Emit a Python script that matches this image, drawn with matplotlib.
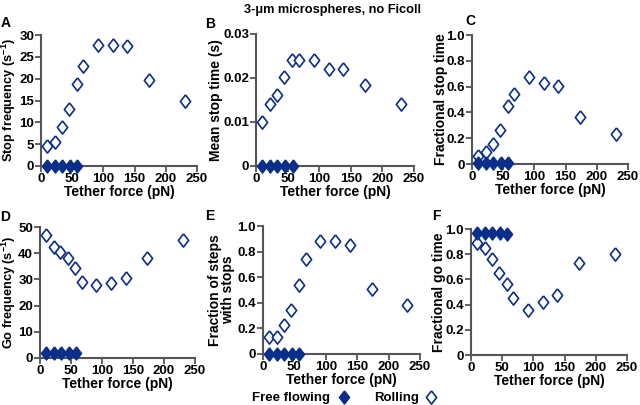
import numpy as np
import matplotlib
matplotlib.use('Agg')
from matplotlib import pyplot as plt

# tether force (pN)
force_roll = [10, 22, 33, 45, 57, 68, 91, 115, 138, 173, 230]
force_free = [10, 22, 34, 46, 58]

# rolling (open diamonds)
stop_freq_roll = [4.5, 5.5, 9, 13, 18.7, 22.8, 27.8, 27.8, 27.5, 19.6, 15]
mean_stop_roll = [0.0100, 0.0141, 0.0162, 0.0202, 0.0241, 0.0241, 0.0241, 0.0220, 0.0220, 0.0183, 0.0141]
frac_stop_roll = [0.06, 0.09, 0.155, 0.265, 0.45, 0.545, 0.675, 0.625, 0.605, 0.365, 0.235]
go_freq_roll = [47, 42.5, 40.3, 38.3, 34.5, 29, 28, 28.5, 30.5, 38.3, 45.2]
frac_steps_roll = [0.13, 0.13, 0.225, 0.34, 0.54, 0.74, 0.88, 0.88, 0.855, 0.51, 0.38]
frac_go_roll = [0.89, 0.85, 0.76, 0.65, 0.56, 0.45, 0.36, 0.42, 0.48, 0.73, 0.80]

# free flowing (filled diamonds)
stop_freq_free = [0, 0, 0, 0, 0]
mean_stop_free = [0, 0, 0, 0, 0]
frac_stop_free = [0.01, 0.01, 0.01, 0.01, 0.01]
go_freq_free = [2, 2, 2, 2, 2]
frac_steps_free = [0, 0, 0, 0, 0]
frac_go_free = [0.97, 0.97, 0.97, 0.97, 0.96]

frac_ticks = [0, 0.2, 0.4, 0.6, 0.8, 1.0]
frac_labels = ['0', '0.2', '0.4', '0.6', '0.8', '1.0']

plt.rcParams['font.family'] = ['Liberation Sans', 'DejaVu Sans']
plt.rcParams['font.weight'] = 'bold'
plt.rcParams['axes.labelweight'] = 'bold'
plt.rcParams['mathtext.fontset'] = 'custom'
plt.rcParams['mathtext.rm'] = 'Liberation Sans:bold'
plt.rcParams['mathtext.bf'] = 'Liberation Sans:bold'
plt.rcParams['mathtext.default'] = 'bf'

blue = '#0b2e8a'
spine_col = '#555555'
W, H = 640, 405
diamond = [(0, 1), (0.78, 0), (0, -1), (-0.78, 0), (0, 1)]

fig = plt.figure(figsize=(W / 100, H / 100), dpi=100)

def make_ax(l, r, t, b):
    return fig.add_axes([l / W, 1 - b / H, (r - l) / W, (b - t) / H])

panels = [
    # box, letter pos, letter, ylabel right edge, ylabel size, ylabel, roll, free, ymax, yticks, yticklabels
    ((41, 197, 35, 166), (1, 27), 'A', 18.5, 9.2, 'Stop frequency (s$^{-1}$)',
     stop_freq_roll, stop_freq_free, 30, [0, 5, 10, 15, 20, 25, 30], None),
    ((256, 414, 34, 166), (205, 28), 'B', 223, 10, 'Mean stop time (s)',
     mean_stop_roll, mean_stop_free, 0.03, [0, 0.01, 0.02, 0.03], ['0', '0.01', '0.02', '0.03']),
    ((472, 628, 35, 164), (465, 25), 'C', 448, 10, 'Fractional stop time',
     frac_stop_roll, frac_stop_free, 1.0, frac_ticks, frac_labels),
    ((40, 195, 227, 358), (0, 221), 'D', 18, 9.2, 'Go frequency (s$^{-1}$)',
     go_freq_roll, go_freq_free, 50, [0, 10, 20, 30, 40, 50], None),
    ((263, 420, 226, 354), (205, 220), 'E', 235, 10, 'Fraction of steps\nwith stops',
     frac_steps_roll, frac_steps_free, 1.0, frac_ticks, frac_labels),
    ((471, 627, 229, 355), (432, 220), 'F', 446, 10, 'Fractional go time',
     frac_go_roll, frac_go_free, 1.0, frac_ticks, frac_labels),
]

for box, lab, letter, lab_x, lab_fs, ylabel, roll, free, ymax, yt, ytl in panels:
    ax = make_ax(*box)
    ax.plot(force_roll, roll, linestyle='none', marker=diamond, ms=9.5,
            mfc='white', mec=blue, mew=1.2, clip_on=False, zorder=3)
    ax.plot(force_free, free, linestyle='none', marker=diamond, ms=9.5,
            mfc=blue, mec=blue, mew=1, clip_on=False, zorder=4)
    ax.set_xlim(0, 250)
    ax.set_ylim(0, ymax)
    ax.set_xticks([0, 50, 100, 150, 200, 250])
    ax.set_yticks(yt)
    if ytl:
        ax.set_yticklabels(ytl)
    for s in ['top', 'right']:
        ax.spines[s].set_visible(False)
    for s in ['left', 'bottom']:
        ax.spines[s].set_color(spine_col)
        ax.spines[s].set_linewidth(1.5)
    ax.tick_params(direction='out', length=4, width=1.3, color=spine_col,
                   labelsize=9.5, pad=1)
    ax.set_xlabel('Tether force (pN)', fontsize=10, labelpad=0)
    ax.set_ylabel(ylabel, fontsize=lab_fs, linespacing=0.95)
    ax.yaxis.set_label_coords((lab_x - box[0]) / (box[1] - box[0]), 0.5)
    fig.text(lab[0] / W, 1 - lab[1] / H, letter, fontsize=10, weight='bold')

fig.text(333 / W, 1 - 13 / H, '3-\u03bcm microspheres, no Ficoll', ha='center',
         fontsize=9.2, weight='bold')

# legend row
fig.text(252 / W, 1 - 401 / H, 'Free flowing', fontsize=9.5, weight='bold')
fig.text(374 / W, 1 - 401 / H, 'Rolling', fontsize=9.5, weight='bold')
lg = fig.add_axes([0, 0, 1, 1], facecolor='none')
lg.set_xlim(0, W)
lg.set_ylim(H, 0)
lg.axis('off')
lg.plot([344], [397], linestyle='none', marker=diamond, ms=9.5, mfc=blue, mec=blue)
lg.plot([431], [397], linestyle='none', marker=diamond, ms=9.5, mfc='white', mec=blue, mew=1.2)

fig.savefig('out.png', dpi=100)
